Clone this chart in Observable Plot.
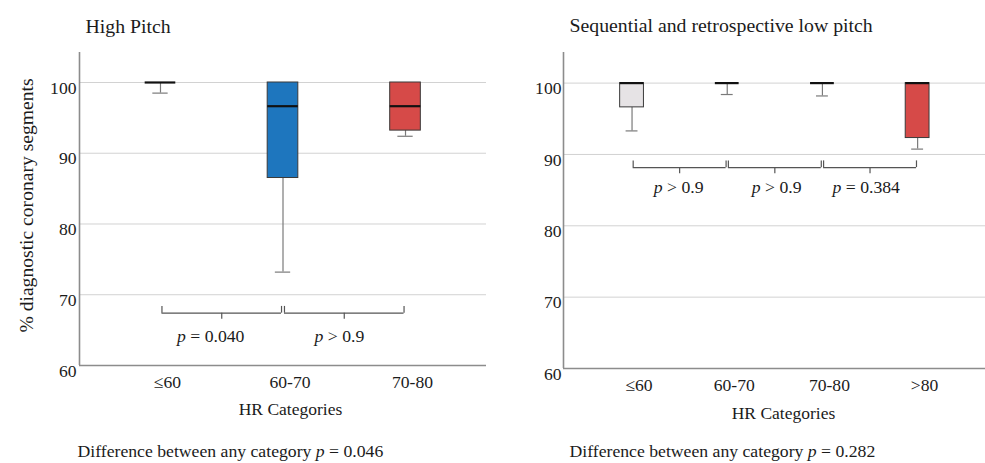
<!DOCTYPE html>
<html>
<head>
<meta charset="utf-8">
<script src="https://cdn.jsdelivr.net/npm/d3@7"></script>
<script src="https://cdn.jsdelivr.net/npm/@observablehq/plot@0.6"></script>
<style>
  html, body { margin: 0; padding: 0; background: #fff; overflow: hidden; }
  #root { position: relative; width: 985px; height: 463px; }
  #root svg { position: absolute; top: 0; }
</style>
</head>
<body>
<div id="root"></div>
<script>
// ---------- data ----------
const yTicks = [60, 70, 80, 90, 100];
const gridTicks = [70, 80, 90, 100];
const yTitle = "% diagnostic coronary segments";
const xTitle = "HR Categories";

// Left panel: High Pitch
const leftTitle = "High Pitch";
const leftCaption = "Difference between any category p = 0.046";
const leftCats = ["≤60", "60-70", "70-80"];
const leftLow = [98.5, 73.2, 92.4];
const leftQ1 = [100, 86.5, 93.2];
const leftMedian = [100, 96.65, 96.65];
const leftQ3 = [100, 100, 100];
const leftFill = ["#ffffff", "#1e76be", "#d64a48"];
const leftBrFrom = [0, 1];
const leftBrTo = [1, 2];
const leftBrLevel = 67.4;
const leftPLabels = ["p = 0.040", "p > 0.9"];
const leftPX = [0.41, 1.46];
const leftPLevel = 64.06;

// Right panel: Sequential and retrospective low pitch
const rightTitle = "Sequential and retrospective low pitch";
const rightCaption = "Difference between any category p = 0.282";
const rightCats = ["≤60", "60-70", "70-80", ">80"];
const rightLow = [93.3, 98.4, 98.2, 90.75];
const rightQ1 = [96.6, 100, 100, 92.3];
const rightMedian = [100, 100, 100, 100];
const rightQ3 = [100, 100, 100, 100];
const rightFill = ["#e6e3e5", "#ffffff", "#ffffff", "#d64a48"];
const rightBrFrom = [0, 1, 2];
const rightBrTo = [1, 2, 3];
const rightBrLevel = 88.15;
const rightPLabels = ["p > 0.9", "p > 0.9", "p = 0.384"];
const rightPX = [0.49, 1.52, 2.46];
const rightPLevel = 85.33;

// ---------- styling ----------
const FONT = "'Liberation Serif', 'Times New Roman', serif";
const BOX = 0.125;   // half box width (fraction of category step)
const CAP = 0.0625;  // half whisker cap width
const GAP = 0.012;   // gap between adjacent brackets

function panel(o) {
  const rows = o.cats.map((c, i) => ({
    i, c, low: o.low[i], q1: o.q1[i], med: o.med[i], q3: o.q3[i], fill: o.fill[i]
  }));
  const br = o.brFrom.map((f, k) => ({
    from: f, to: o.brTo[k], label: o.pLabels[k], px: o.pX[k]
  }));
  const n = o.cats.length;
  const xDomain = [-o.padL, n - 1 + o.padR];
  const tick = 0.95;
  const svg = Plot.plot({
    width: o.width,
    height: 463,
    marginLeft: o.marginLeft,
    marginRight: o.marginRight,
    marginTop: o.marginTop,
    marginBottom: o.marginBottom,
    style: { fontFamily: FONT, fontSize: "17.6px", color: "#1b1b1b", background: "transparent", overflow: "visible" },
    x: { type: "linear", domain: xDomain },
    y: { domain: [60, o.yMax] },
    color: { type: "identity" },
    marks: [
      Plot.ruleY(gridTicks, { stroke: "#d2d2d2", strokeWidth: 1 }),
      // whiskers
      Plot.ruleX(rows.filter(d => d.low < d.q1), { x: "i", y1: "low", y2: "q1", stroke: "#7a7a7a", strokeWidth: 1.2 }),
      Plot.ruleY(rows.filter(d => d.low < d.q1), { x1: d => d.i - CAP, x2: d => d.i + CAP, y: "low", stroke: "#7a7a7a", strokeWidth: 1.2 }),
      // boxes
      Plot.rect(rows.filter(d => d.q3 > d.q1), { x1: d => d.i - BOX, x2: d => d.i + BOX, y1: "q1", y2: "q3", fill: "fill", stroke: "#3a3a3a", strokeWidth: 1 }),
      // medians
      Plot.ruleY(rows, { x1: d => d.i - BOX, x2: d => d.i + BOX, y: "med", stroke: "#111", strokeWidth: 2.2 }),
      // axis lines
      Plot.ruleX([xDomain[0]], { stroke: "#8c8c8c", strokeWidth: 1.6 }),
      Plot.ruleY([60], { stroke: "#8c8c8c", strokeWidth: 1.6 }),
      // comparison brackets
      Plot.ruleY(br, { x1: d => d.from + GAP, x2: d => d.to - GAP, y: () => o.brLevel, stroke: "#555", strokeWidth: 1.2 }),
      Plot.ruleX(br, { x: d => d.from + GAP, y1: () => o.brLevel, y2: () => o.brLevel + tick, stroke: "#555", strokeWidth: 1.2 }),
      Plot.ruleX(br, { x: d => d.to - GAP, y1: () => o.brLevel, y2: () => o.brLevel + tick, stroke: "#555", strokeWidth: 1.2 }),
      Plot.ruleX(br, { x: d => (d.from + d.to) / 2, y1: () => o.brLevel - 0.85, y2: () => o.brLevel, stroke: "#555", strokeWidth: 1.2 }),
      Plot.text(br, { x: "px", y: () => o.pLevel, text: "label", fontSize: 17.7, lineAnchor: "middle", fill: "#1b1b1b" }),
      // axes
      Plot.axisY({ ticks: yTicks, tickSize: 0, tickPadding: o.yPad, dy: 5.5, fontSize: 17.6, label: null }),
      Plot.axisX({ ticks: o.cats.map((c, i) => i), tickFormat: i => o.cats[i], tickSize: 0, tickPadding: o.xPad, dx: 7, fontSize: 17.6, label: null }),
      // titles and captions
      Plot.text([o.title], { text: d => d, frameAnchor: "top-left", textAnchor: "start", lineAnchor: "bottom", dx: o.titleDx, dy: o.titleDy, fontSize: 19.8 }),
      Plot.text([xTitle], { text: d => d, frameAnchor: "bottom", textAnchor: "middle", lineAnchor: "bottom", dx: o.xtDx, dy: o.xtDy, fontSize: 17.5 }),
      Plot.text([o.caption], { text: d => d, frameAnchor: "bottom-left", textAnchor: "start", lineAnchor: "bottom", dx: o.capDx, dy: o.capDy, fontSize: 17.7 }),
      ...(o.showYTitle ? [Plot.text([yTitle], { text: d => d, frameAnchor: "left", rotate: -90, textAnchor: "middle", lineAnchor: "middle", dx: o.ytDx, dy: o.ytDy, fontSize: 19.6 })] : [])
    ]
  });
  // italic "p" in statistics text
  svg.querySelectorAll("text").forEach(t => {
    if (t.children.length) return;
    const s = t.textContent;
    const m = s.match(/^(|.*\s)p(\s[=>]\s.*)$/);
    if (!m) return;
    t.textContent = "";
    if (m[1]) t.appendChild(document.createTextNode(m[1]));
    const ts = document.createElementNS("http://www.w3.org/2000/svg", "tspan");
    ts.setAttribute("font-style", "italic");
    ts.textContent = "p";
    t.appendChild(ts);
    t.appendChild(document.createTextNode(m[2]));
  });
  svg.style.left = o.left + "px";
  return svg;
}

const root = document.getElementById("root");
root.appendChild(panel({
  cats: leftCats, low: leftLow, q1: leftQ1, med: leftMedian, q3: leftQ3, fill: leftFill,
  brFrom: leftBrFrom, brTo: leftBrTo, brLevel: leftBrLevel, pLabels: leftPLabels, pX: leftPX, pLevel: leftPLevel,
  title: leftTitle, caption: leftCaption,
  left: 0, width: 490, marginLeft: 79, marginRight: 4, marginTop: 52, marginBottom: 98,
  padL: 0.661, padR: 0.661, yMax: 104.24, yPad: 3, xPad: 10,
  titleDx: 6, titleDy: -20, xtDx: 7.5, xtDy: 49, capDx: -2, capDy: 91,
  showYTitle: true, ytDx: -53, ytDy: -3.5
}));
root.appendChild(panel({
  cats: rightCats, low: rightLow, q1: rightQ1, med: rightMedian, q3: rightQ3, fill: rightFill,
  brFrom: rightBrFrom, brTo: rightBrTo, brLevel: rightBrLevel, pLabels: rightPLabels, pX: rightPX, pLevel: rightPLevel,
  title: rightTitle, caption: rightCaption,
  left: 490, width: 495, marginLeft: 73, marginRight: 0, marginTop: 52, marginBottom: 95,
  padL: 0.72, padR: 0.713, yMax: 104.29, yPad: 2, xPad: 10,
  titleDx: 6, titleDy: -21, xtDx: 9, xtDy: 50, capDx: 6, capDy: 88,
  showYTitle: false
}));
</script>
</body>
</html>
